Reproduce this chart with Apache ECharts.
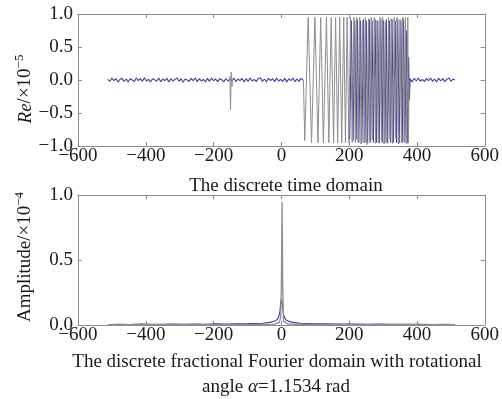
<!DOCTYPE html>
<html>
<head>
<meta charset="utf-8">
<script src="https://cdn.jsdelivr.net/npm/echarts@6/dist/echarts.min.js"></script>
<style>
html,body{margin:0;padding:0;background:#fff;}
#c{width:502px;height:399px;}
</style>
</head>
<body>
<div id="c"></div>
<script>
// ---------- data (top: Re / 1e-5, bottom: Amplitude / 1e-4) ----------
const xTicks = [-600, -400, -200, 0, 200, 400, 600];
const yTicksTop = [-1.0, -0.5, 0.0, 0.5, 1.0];
const yTicksBottom = [0.0, 0.5, 1.0];

// blue noise before the chirp, samples every 6 from -512
const noiseLeftStart = -512, noiseStep = 6;
const noiseLeft = [0.01,-0.02,0.03,-0.01,0.02,-0.03,0.01,0.025,-0.02,0.015,-0.03,0.02,0.0,-0.025,0.03,-0.01,
  0.02,-0.02,0.035,-0.015,0.01,-0.03,0.02,0.005,-0.02,0.03,-0.025,0.015,-0.01,0.025,-0.03,0.02,
  -0.015,0.01,0.03,-0.02,0.02,-0.035,0.015,0.0,-0.02,0.025,-0.01,0.03,-0.025,0.02,-0.015,0.01,
  -0.03,0.025,-0.02,0.03,-0.01,0.015,-0.025,0.02,0.005,-0.03,0.02,-0.015,0.01,-0.02,0.03,-0.025,
  0.015,-0.01,0.025,-0.03,0.02,-0.02,0.03,-0.015,0.01,-0.025,0.02,0.035,-0.02,0.015,-0.03,0.025,
  -0.01,0.02,-0.025,0.03,-0.015,0.01,-0.02,0.025,-0.03,0.02,-0.01,0.03,-0.025,0.015,-0.02,0.025,0.0];
// blue noise after the chirp, samples every 6 from 380
const noiseRightStart = 380;
const noiseRight = [0.02,-0.03,0.025,-0.015,0.03,-0.02,0.01,-0.025,0.02,-0.01,0.03,-0.02,
  0.015,-0.03,0.025,-0.015,0.02,-0.025,0.01,0.03,-0.02,0.015,0.0];

// spike near -150
const spikeX = [-154,-152,-150,-148,-146,-144];
const spikeY = [0.0,0.05,-0.45,0.12,-0.1,0.0];

// gray chirp turning points
const chirpX = [65,69,79,89,99,108,116,124,133,140,147,154,160,166,172,178,184,189,194,199,204,209,214,218,222,226,231,235,240,244,248,252,257,261,265,269,274,278,282,286,291,295,299,303,307,311,316,320,324,328,333,337,341,345,350,354,358,362,366,370,373,375,377];
const chirpY = [0,-0.92,0.95,-0.95,0.95,-0.95,0.95,-0.95,0.95,-0.95,0.95,-0.95,0.95,-0.95,0.95,-0.95,0.95,-0.95,0.95,-0.95,0.95,-0.95,0.95,-0.95,0.95,-0.93,0.95,-0.97,0.9,-0.95,0.95,-0.98,0.93,-0.95,0.95,-0.9,0.95,-0.96,0.9,-0.95,0.95,-0.92,0.95,-0.97,0.88,-0.95,0.95,-0.9,0.93,-0.96,0.95,-0.88,0.95,-0.97,0.92,-0.95,0.95,-0.93,0.95,-0.97,0.95,-0.95,0];

// blue (noisy) chirp turning points, second half
const blueChirpX = [201.5,206.5,211.5,216.5,220.5,224.5,228.5,233.5,237.5,242.5,246.5,250.5,254.5,259.5,263.5,267.5,271.5,276.5,280.5,284.5,288.5,293.5,297.5,301.5,305.5,309.5,313.5,318.5,322.5,326.5,330.5,335.5,339.5,343.5,347.5,352.5,356.5,360.5,364.5,368.5,372.5,375.5,377.5,380];
const blueChirpY = [-0.9,0.9,-0.92,0.9,-0.9,0.92,-0.95,0.9,-0.95,0.92,-0.95,0.9,-0.96,0.92,-0.93,0.9,-0.95,0.92,-0.95,0.9,-0.96,0.92,-0.95,0.9,-0.95,0.92,-0.96,0.9,-0.95,0.92,-0.95,0.9,-0.95,0.92,-0.96,0.9,-0.95,0.92,-0.95,0.75,-0.95,0.35,-0.3,0.02];

// bottom: fractional Fourier amplitude
const ampBlueX = [-512,-480,-448,-416,-384,-352,-320,-288,-256,-224,-192,-160,-128,-96,-72,-56,-44,-36,-30,-24,-20,-16,-13,-10,-8,-6,-4,-2,0,2,4,6,8,10,13,16,20,24,30,36,44,56,72,96,128,160,192,224,256,288,320,352,384,416,448,480,512];
const ampBlueY = [0.004,0.006,0.004,0.007,0.005,0.006,0.008,0.005,0.007,0.006,0.009,0.007,0.01,0.011,0.012,0.014,0.016,0.02,0.022,0.027,0.03,0.035,0.04,0.05,0.06,0.08,0.11,0.17,0.2,0.19,0.14,0.09,0.065,0.05,0.04,0.035,0.03,0.026,0.022,0.02,0.016,0.013,0.012,0.01,0.009,0.008,0.007,0.008,0.006,0.007,0.005,0.006,0.005,0.006,0.004,0.005,0.004];
const ampGrayX = [-512,-100,-20,-6,-2,0,2,4,6,20,100,512];
const ampGrayY = [0.002,0.003,0.006,0.02,0.06,0.3,0.95,0.3,0.03,0.006,0.003,0.002];

// ---------- build ----------
const FONT = '"Liberation Serif","DejaVu Serif","Times New Roman",serif';
const AX = '#8c8c8c';
const BLUE = '#3c3ca4';
const GRAY = '#8e8e8e';

function pairs(xs, ys){ return xs.map((x,i)=>[x, ys[i]]); }
function seq(start, step, ys){ return ys.map((y,i)=>[start + i*step, y]); }
function fmt(v, d){ const s = d==null ? String(Math.abs(v)) : Math.abs(v).toFixed(d); return v<0 ? '\u2212' + s : s; }

const blueTop = seq(noiseLeftStart, noiseStep, noiseLeft)
  .concat([[65, '-']])
  .concat(pairs(blueChirpX, blueChirpY))
  .concat(seq(noiseRightStart, noiseStep, noiseRight));
const grayTop = pairs(chirpX, chirpY).concat([[378,'-']]).concat(pairs(spikeX, spikeY));

function xAx(grid, pos, labels){
  return {type:'value', gridIndex:grid, position:pos, min:xTicks[0], max:xTicks[xTicks.length-1], interval:200,
    axisLine:{show:true, onZero:false, lineStyle:{color:AX, width:1}},
    axisTick:{show:true, inside:true, length:4, lineStyle:{color:AX}},
    splitLine:{show:false},
    axisLabel:{show:labels, margin:1, color:'#1a1a1a', fontFamily:FONT, fontSize:19, formatter:v=>fmt(v)}};
}
function yAx(grid, pos, labels, ticks, interval){
  return {type:'value', gridIndex:grid, position:pos, min:ticks[0], max:ticks[ticks.length-1], interval:interval,
    axisLine:{show:true, onZero:false, lineStyle:{color:AX, width:1}},
    axisTick:{show:true, inside:true, length:4, lineStyle:{color:AX}},
    splitLine:{show:false},
    axisLabel:{show:labels, margin:5, color:'#1a1a1a', fontFamily:FONT, fontSize:19, formatter:v=>fmt(v,1)}};
}

const rich = {
  n:{fontFamily:FONT, fontSize:19, color:'#1a1a1a', verticalAlign:'bottom'},
  it:{fontFamily:FONT, fontSize:19, fontStyle:'italic', color:'#1a1a1a', verticalAlign:'bottom'},
  sup:{fontFamily:FONT, fontSize:13, color:'#1a1a1a', verticalAlign:'bottom', padding:[0,0,9,0]}
};
function txt(x, y, text, rot, useRich){
  return {type:'text', x:x, y:y, rotation:rot||0, silent:true,
    style:{text:text, fontFamily:FONT, fontSize:19, fill:'#1a1a1a', align:'center', verticalAlign:'middle',
      textAlign:'center', textVerticalAlign:'middle', rich: useRich ? rich : undefined}};
}

const option = {
  animation:false,
  backgroundColor:'#fff',
  grid:[{left:78, top:14, width:410, height:132}, {left:78, top:195, width:410, height:130}],
  xAxis:[xAx(0,'bottom',true), xAx(0,'top',false), xAx(1,'bottom',true), xAx(1,'top',false)],
  yAxis:[yAx(0,'left',true,yTicksTop,0.5), yAx(0,'right',false,yTicksTop,0.5),
         yAx(1,'left',true,yTicksBottom,0.5), yAx(1,'right',false,yTicksBottom,0.5)],
  series:[
    {type:'line', xAxisIndex:0, yAxisIndex:0, data:blueTop, showSymbol:false, connectNulls:false,
      lineStyle:{color:BLUE, width:1.1}, z:2},
    {type:'line', xAxisIndex:0, yAxisIndex:0, data:grayTop, showSymbol:false, connectNulls:false,
      lineStyle:{color:GRAY, width:1}, z:3},
    {type:'line', xAxisIndex:2, yAxisIndex:2, data:pairs(ampBlueX, ampBlueY), showSymbol:false,
      lineStyle:{color:BLUE, width:1.1}, z:2},
    {type:'line', xAxisIndex:2, yAxisIndex:2, data:pairs(ampGrayX, ampGrayY), showSymbol:false,
      lineStyle:{color:GRAY, width:1.3}, z:3}
  ],
  graphic:[
    txt(286, 186, 'The discrete time domain'),
    txt(277, 362, 'The discrete fractional Fourier domain with rotational'),
    txt(276, 387, '{n|angle }{it|\u03b1}{n|=1.1534 rad}', 0, true),
    txt(24, 89, '{it|Re}{n|/\u00d710}{sup|\u22125}', Math.PI/2, true),
    txt(24, 257, '{n|Amplitude/\u00d710}{sup|\u22124}', Math.PI/2, true)
  ]
};
const chart = echarts.init(document.getElementById('c'), null, {renderer:'canvas'});
chart.setOption(option);
</script>
</body>
</html>
